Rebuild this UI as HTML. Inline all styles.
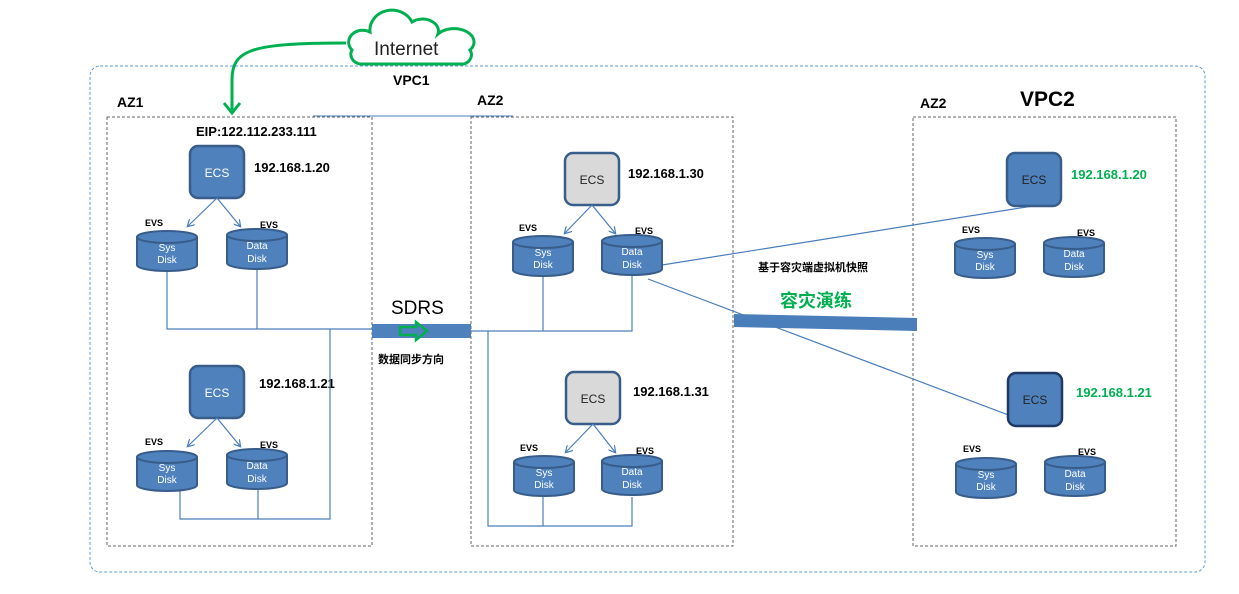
<!DOCTYPE html>
<html><head><meta charset="utf-8"><style>
html,body{margin:0;padding:0;background:#fff;}
svg{display:block;}
text{font-family:"Liberation Sans","Noto Sans CJK SC",sans-serif;}
</style></head><body>
<svg width="1239" height="594" viewBox="0 0 1239 594" xmlns="http://www.w3.org/2000/svg">
<defs>
<marker id="a" markerWidth="8" markerHeight="8" refX="6" refY="4" orient="auto" markerUnits="userSpaceOnUse"><path d="M0,0 L7,4 L0,8" fill="none" stroke="#4a7ebb" stroke-width="1.2"/></marker>
<g id="disk"><path d="M0,6 v28 a30,6 0 0 0 60,0 v-28" fill="#4f81bd" stroke="#385d8a" stroke-width="2"/><ellipse cx="30" cy="6" rx="30" ry="6" fill="#4f81bd" stroke="#385d8a" stroke-width="2"/></g>
</defs>
<rect x="90" y="66" width="1115" height="506" rx="10" fill="none" stroke="#5b9bd5" stroke-dasharray="3,2"/>
<g fill="none" stroke="#666" stroke-dasharray="3,2">
<rect x="107" y="117" width="265" height="429"/>
<rect x="471" y="117" width="262" height="429"/>
<rect x="913" y="117" width="263" height="429"/>
</g>
<line x1="313" y1="116" x2="513" y2="116" stroke="#4a7ebb"/>
<!-- cloud -->
<path d="M352,50 a14,12 0 0 1 18,-18 a22,20 0 0 1 42,-10 a16,12 0 0 1 26,12 a18,12 0 0 1 32,16 a12,10 0 0 1 -6,14 h-104 a12,10 0 0 1 -8,-14z" fill="#fff" stroke="#00b050" stroke-width="3"/>
<text x="374" y="55" font-size="19" fill="#222">Internet</text>
<path d="M346,43 C250,43 232,50 232,80 L232,110" fill="none" stroke="#00b050" stroke-width="3"/>
<path d="M224,103 L232,113 L240,103" fill="none" stroke="#00b050" stroke-width="3"/>
<g font-weight="bold" fill="#000">
<text x="393" y="85" font-size="14">VPC1</text>
<text x="117" y="107" font-size="14">AZ1</text>
<text x="477" y="105" font-size="14">AZ2</text>
<text x="920" y="108" font-size="14">AZ2</text>
<text x="1020" y="106" font-size="21">VPC2</text>
<text x="196" y="136" font-size="13">EIP:122.112.233.111</text>
<text x="254" y="172" font-size="13">192.168.1.20</text>
<text x="259" y="388" font-size="13">192.168.1.21</text>
<text x="628" y="178" font-size="13">192.168.1.30</text>
<text x="633" y="396" font-size="13">192.168.1.31</text>
<text x="378" y="363" font-size="11">数据同步方向</text>
<text x="758" y="271" font-size="11">基于容灾端虚拟机快照</text>
</g>
<g font-weight="bold" fill="#00b050">
<text x="1071" y="179" font-size="13">192.168.1.20</text>
<text x="1076" y="397" font-size="13">192.168.1.21</text>
<text x="780" y="307" font-size="18">容灾演练</text>
</g>
<text x="391" y="314" font-size="19" fill="#000">SDRS</text>
<!-- connecting lines -->
<g fill="none" stroke="#4a7ebb" stroke-width="1.2">
<polyline points="167,270 167,329 372,329"/><line x1="257" y1="270" x2="257" y2="329"/>
<polyline points="330,329 330,519 180,519 180,490"/><line x1="258" y1="490" x2="258" y2="519"/>
<polyline points="471,331 632,331 632,276"/><line x1="543" y1="276" x2="543" y2="331"/>
<polyline points="488,331 488,526 632,526 632,497"/><line x1="543" y1="497" x2="543" y2="526"/>
<line x1="662" y1="265" x2="1033" y2="206"/>
<line x1="648" y1="279" x2="1035" y2="425"/>
</g>
<rect x="372" y="324" width="99" height="14" fill="#4f81bd"/>
<path d="M400,327 h16 v-5 l11,9 l-11,9 v-5 h-16z" fill="none" stroke="#00b050" stroke-width="2.5"/>
<polygon points="734,314 917,318 917,331 734,327" fill="#4a7ebb"/>
<!-- ECS nodes -->
<g stroke-width="2.5">
<rect x="190" y="146" width="54" height="52" rx="8" fill="#4f81bd" stroke="#385d8a"/>
<rect x="190" y="366" width="54" height="52" rx="8" fill="#4f81bd" stroke="#385d8a"/>
<rect x="565" y="153" width="54" height="52" rx="8" fill="#d9d9d9" stroke="#385d8a"/>
<rect x="566" y="372" width="54" height="52" rx="8" fill="#d9d9d9" stroke="#385d8a"/>
<rect x="1007" y="153" width="54" height="53" rx="8" fill="#4f81bd" stroke="#385d8a"/>
<rect x="1008" y="373" width="54" height="53" rx="8" fill="#4f81bd" stroke="#1f3864"/>
</g>
<g font-size="12" text-anchor="middle">
<text x="217" y="177" fill="#fff">ECS</text><text x="217" y="397" fill="#fff">ECS</text>
<text x="592" y="184" fill="#222">ECS</text><text x="593" y="403" fill="#222">ECS</text>
<text x="1034" y="184" fill="#222">ECS</text><text x="1035" y="404" fill="#222">ECS</text>
</g>
<!-- arrows ECS->disks -->
<g stroke="#4a7ebb" stroke-width="1.2" marker-end="url(#a)">
<line x1="217" y1="198" x2="188" y2="226"/><line x1="217" y1="198" x2="240" y2="226"/>
<line x1="217" y1="418" x2="188" y2="446"/><line x1="217" y1="418" x2="240" y2="446"/>
<line x1="592" y1="205" x2="565" y2="233"/><line x1="592" y1="205" x2="615" y2="233"/>
<line x1="593" y1="424" x2="566" y2="452"/><line x1="593" y1="424" x2="615" y2="452"/>
</g>
<!-- disks -->
<use href="#disk" x="137" y="231"/><use href="#disk" x="227" y="229"/>
<use href="#disk" x="137" y="451"/><use href="#disk" x="227" y="449"/>
<use href="#disk" x="513" y="236"/><use href="#disk" x="602" y="235"/>
<use href="#disk" x="514" y="456"/><use href="#disk" x="602" y="455"/>
<use href="#disk" x="955" y="238"/><use href="#disk" x="1044" y="237"/>
<use href="#disk" x="956" y="458"/><use href="#disk" x="1045" y="456"/>
<g font-size="10" fill="#fff" text-anchor="middle">
<text x="167" y="251">Sys</text><text x="167" y="263">Disk</text>
<text x="257" y="249">Data</text><text x="257" y="262">Disk</text>
<text x="167" y="471">Sys</text><text x="167" y="483">Disk</text>
<text x="257" y="469">Data</text><text x="257" y="482">Disk</text>
<text x="543" y="256">Sys</text><text x="543" y="268">Disk</text>
<text x="632" y="255">Data</text><text x="632" y="268">Disk</text>
<text x="544" y="476">Sys</text><text x="544" y="488">Disk</text>
<text x="632" y="475">Data</text><text x="632" y="488">Disk</text>
<text x="985" y="258">Sys</text><text x="985" y="270">Disk</text>
<text x="1074" y="257">Data</text><text x="1074" y="270">Disk</text>
<text x="986" y="478">Sys</text><text x="986" y="490">Disk</text>
<text x="1075" y="477">Data</text><text x="1075" y="490">Disk</text>
</g>
<g font-size="9" font-weight="bold" fill="#000">
<text x="145" y="226">EVS</text><text x="260" y="228">EVS</text>
<text x="145" y="445">EVS</text><text x="260" y="448">EVS</text>
<text x="519" y="231">EVS</text><text x="635" y="234">EVS</text>
<text x="520" y="451">EVS</text><text x="636" y="454">EVS</text>
<text x="962" y="233">EVS</text><text x="1077" y="236">EVS</text>
<text x="963" y="452">EVS</text><text x="1078" y="455">EVS</text>
</g>
</svg>
</body></html>
